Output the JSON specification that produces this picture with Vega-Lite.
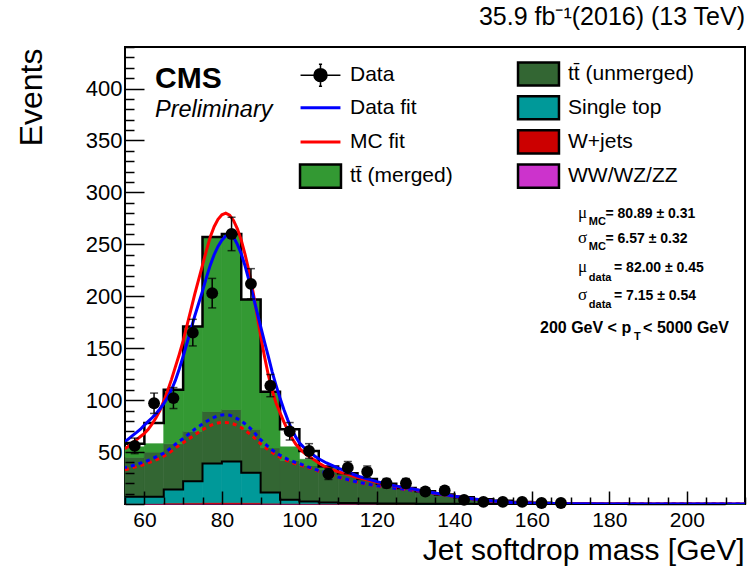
{
  "$schema": "https://vega.github.io/schema/vega-lite/v6.json",
  "width": 620,
  "height": 457,
  "autosize": {"type": "none"},
  "padding": {"left": 125, "top": 47, "right": 2, "bottom": 62},
  "background": "white",
  "title": {"text": "35.9 fb\u207b\u00b9(2016) (13 TeV)", "anchor": "end", "frame": "group", "fontSize": 25, "fontWeight": "normal", "font": "Liberation Sans", "color": "black", "offset": 6},
  "datasets": {
    "bins": [
      {"lo": 55, "hi": 60, "ww": 0.1, "wjets": 0.3, "stop": 6.6, "tt_unmerged": 38, "tt_merged": 10, "mc_total": 58},
      {"lo": 60, "hi": 65, "ww": 0.1, "wjets": 0.4, "stop": 6.5, "tt_unmerged": 43, "tt_merged": 8, "mc_total": 78},
      {"lo": 65, "hi": 70, "ww": 0.2, "wjets": 0.8, "stop": 13, "tt_unmerged": 44, "tt_merged": 52, "mc_total": 110},
      {"lo": 70, "hi": 75, "ww": 0.2, "wjets": 1.0, "stop": 20.8, "tt_unmerged": 48, "tt_merged": 101, "mc_total": 171},
      {"lo": 75, "hi": 80, "ww": 0.3, "wjets": 1.2, "stop": 37.5, "tt_unmerged": 50, "tt_merged": 168, "mc_total": 257},
      {"lo": 80, "hi": 85, "ww": 0.3, "wjets": 1.2, "stop": 39.5, "tt_unmerged": 50, "tt_merged": 169, "mc_total": 260},
      {"lo": 85, "hi": 90, "ww": 0.3, "wjets": 1.0, "stop": 28.7, "tt_unmerged": 42, "tt_merged": 125, "mc_total": 197},
      {"lo": 90, "hi": 95, "ww": 0.2, "wjets": 0.6, "stop": 10.2, "tt_unmerged": 43, "tt_merged": 54, "mc_total": 108},
      {"lo": 95, "hi": 100, "ww": 0.2, "wjets": 0.4, "stop": 3.4, "tt_unmerged": 38, "tt_merged": 13, "mc_total": 72},
      {"lo": 100, "hi": 105, "ww": 0.1, "wjets": 0.3, "stop": 2.1, "tt_unmerged": 34.5, "tt_merged": 6, "mc_total": 51},
      {"lo": 105, "hi": 110, "ww": 0.1, "wjets": 0.2, "stop": 1.2, "tt_unmerged": 31.5, "tt_merged": 2, "mc_total": 36},
      {"lo": 110, "hi": 115, "ww": 0.1, "wjets": 0.2, "stop": 0.7, "tt_unmerged": 27, "tt_merged": 1.5, "mc_total": 29.5},
      {"lo": 115, "hi": 120, "ww": 0.1, "wjets": 0.1, "stop": 0.6, "tt_unmerged": 22.2, "tt_merged": 1, "mc_total": 24},
      {"lo": 120, "hi": 125, "ww": 0, "wjets": 0.1, "stop": 0.5, "tt_unmerged": 18.4, "tt_merged": 0.6, "mc_total": 19.6},
      {"lo": 125, "hi": 130, "ww": 0, "wjets": 0.1, "stop": 0.4, "tt_unmerged": 14.5, "tt_merged": 0.5, "mc_total": 15.5},
      {"lo": 130, "hi": 135, "ww": 0, "wjets": 0, "stop": 0.3, "tt_unmerged": 11.7, "tt_merged": 0.3, "mc_total": 12.3},
      {"lo": 135, "hi": 140, "ww": 0, "wjets": 0, "stop": 0.2, "tt_unmerged": 8.8, "tt_merged": 0.2, "mc_total": 9.2},
      {"lo": 140, "hi": 145, "ww": 0, "wjets": 0, "stop": 0.2, "tt_unmerged": 6.3, "tt_merged": 0.1, "mc_total": 6.6},
      {"lo": 145, "hi": 150, "ww": 0, "wjets": 0, "stop": 0.1, "tt_unmerged": 4.4, "tt_merged": 0.1, "mc_total": 4.6},
      {"lo": 150, "hi": 155, "ww": 0, "wjets": 0, "stop": 0.1, "tt_unmerged": 2.9, "tt_merged": 0.1, "mc_total": 3.1},
      {"lo": 155, "hi": 160, "ww": 0, "wjets": 0, "stop": 0.05, "tt_unmerged": 1.9, "tt_merged": 0.05, "mc_total": 2.0},
      {"lo": 160, "hi": 165, "ww": 0, "wjets": 0, "stop": 0, "tt_unmerged": 1.3, "tt_merged": 0, "mc_total": 1.3},
      {"lo": 165, "hi": 170, "ww": 0, "wjets": 0, "stop": 0, "tt_unmerged": 0.8, "tt_merged": 0, "mc_total": 0.8},
      {"lo": 170, "hi": 175, "ww": 0, "wjets": 0, "stop": 0, "tt_unmerged": 0.5, "tt_merged": 0, "mc_total": 0.5},
      {"lo": 175, "hi": 180, "ww": 0, "wjets": 0, "stop": 0, "tt_unmerged": 0.3, "tt_merged": 0, "mc_total": 0.3},
      {"lo": 180, "hi": 185, "ww": 0, "wjets": 0, "stop": 0, "tt_unmerged": 0.2, "tt_merged": 0, "mc_total": 0.2},
      {"lo": 185, "hi": 190, "ww": 0, "wjets": 0, "stop": 0, "tt_unmerged": 0.12, "tt_merged": 0, "mc_total": 0.12},
      {"lo": 190, "hi": 195, "ww": 0, "wjets": 0, "stop": 0, "tt_unmerged": 0.08, "tt_merged": 0, "mc_total": 0.08},
      {"lo": 195, "hi": 200, "ww": 0, "wjets": 0, "stop": 0, "tt_unmerged": 0.05, "tt_merged": 0, "mc_total": 0.05},
      {"lo": 200, "hi": 205, "ww": 0, "wjets": 0, "stop": 0, "tt_unmerged": 0.03, "tt_merged": 0, "mc_total": 0.03},
      {"lo": 205, "hi": 210, "ww": 0, "wjets": 0, "stop": 0, "tt_unmerged": 0.02, "tt_merged": 0, "mc_total": 0.02},
      {"lo": 210, "hi": 215, "ww": 0, "wjets": 0, "stop": 0, "tt_unmerged": 0.01, "tt_merged": 0, "mc_total": 0.01}
    ],
    "points": [
      {"m": 57.5, "n": 56, "err": 7.5},
      {"m": 62.5, "n": 97, "err": 9.8},
      {"m": 67.5, "n": 102, "err": 10.1},
      {"m": 72.5, "n": 165, "err": 12.8},
      {"m": 77.5, "n": 203, "err": 14.2},
      {"m": 82.5, "n": 260, "err": 16.1},
      {"m": 87.5, "n": 212, "err": 14.6},
      {"m": 92.5, "n": 114, "err": 10.7},
      {"m": 97.5, "n": 70, "err": 8.4},
      {"m": 102.5, "n": 51, "err": 7.1},
      {"m": 107.5, "n": 29, "err": 5.4},
      {"m": 112.5, "n": 35, "err": 5.9},
      {"m": 117.5, "n": 31, "err": 5.6},
      {"m": 122.5, "n": 20, "err": 4.5},
      {"m": 127.5, "n": 20, "err": 4.5},
      {"m": 132.5, "n": 12, "err": 3.5},
      {"m": 137.5, "n": 13, "err": 3.6},
      {"m": 142.5, "n": 4, "err": 2},
      {"m": 147.5, "n": 2, "err": 1.4},
      {"m": 152.5, "n": 2, "err": 1.4},
      {"m": 157.5, "n": 2, "err": 1.4},
      {"m": 162.5, "n": 1, "err": 1},
      {"m": 167.5, "n": 1, "err": 1}
    ],
    "curves": [
      {"m": 55, "data_fit": 60, "mc_fit": 53, "data_bkg": 35, "mc_bkg": 33},
      {"m": 56, "data_fit": 63, "mc_fit": 56, "data_bkg": 36, "mc_bkg": 34},
      {"m": 57, "data_fit": 66, "mc_fit": 59, "data_bkg": 37, "mc_bkg": 35},
      {"m": 58, "data_fit": 69, "mc_fit": 62, "data_bkg": 38, "mc_bkg": 36},
      {"m": 59, "data_fit": 72, "mc_fit": 65, "data_bkg": 39.3, "mc_bkg": 37},
      {"m": 60, "data_fit": 76, "mc_fit": 68, "data_bkg": 40.5, "mc_bkg": 38},
      {"m": 61, "data_fit": 79.5, "mc_fit": 72, "data_bkg": 42, "mc_bkg": 39.5},
      {"m": 62, "data_fit": 83, "mc_fit": 77, "data_bkg": 43.5, "mc_bkg": 41},
      {"m": 63, "data_fit": 87, "mc_fit": 83, "data_bkg": 45.3, "mc_bkg": 42.5},
      {"m": 64, "data_fit": 91.5, "mc_fit": 90, "data_bkg": 47, "mc_bkg": 44},
      {"m": 65, "data_fit": 96.5, "mc_fit": 99, "data_bkg": 49, "mc_bkg": 46},
      {"m": 66, "data_fit": 102.5, "mc_fit": 109, "data_bkg": 51.5, "mc_bkg": 48.5},
      {"m": 67, "data_fit": 110, "mc_fit": 120, "data_bkg": 54.5, "mc_bkg": 51},
      {"m": 68, "data_fit": 119, "mc_fit": 132, "data_bkg": 57.5, "mc_bkg": 54},
      {"m": 69, "data_fit": 130, "mc_fit": 144, "data_bkg": 60.5, "mc_bkg": 56.5},
      {"m": 70, "data_fit": 142, "mc_fit": 157, "data_bkg": 63, "mc_bkg": 59},
      {"m": 71, "data_fit": 155, "mc_fit": 172, "data_bkg": 66, "mc_bkg": 61.5},
      {"m": 72, "data_fit": 168, "mc_fit": 187, "data_bkg": 69, "mc_bkg": 64},
      {"m": 73, "data_fit": 181, "mc_fit": 202, "data_bkg": 72, "mc_bkg": 66.5},
      {"m": 74, "data_fit": 193, "mc_fit": 216, "data_bkg": 74.5, "mc_bkg": 69},
      {"m": 75, "data_fit": 205, "mc_fit": 230, "data_bkg": 77, "mc_bkg": 71.5},
      {"m": 76, "data_fit": 218, "mc_fit": 244, "data_bkg": 79.5, "mc_bkg": 73.5},
      {"m": 77, "data_fit": 230, "mc_fit": 257, "data_bkg": 81.5, "mc_bkg": 75.5},
      {"m": 78, "data_fit": 240, "mc_fit": 267, "data_bkg": 83.5, "mc_bkg": 77},
      {"m": 79, "data_fit": 248, "mc_fit": 274, "data_bkg": 85, "mc_bkg": 78},
      {"m": 80, "data_fit": 254, "mc_fit": 278.5, "data_bkg": 85.7, "mc_bkg": 78.5},
      {"m": 81, "data_fit": 258, "mc_fit": 280, "data_bkg": 86, "mc_bkg": 78.5},
      {"m": 82, "data_fit": 259, "mc_fit": 278, "data_bkg": 85.5, "mc_bkg": 78},
      {"m": 83, "data_fit": 257, "mc_fit": 273, "data_bkg": 84, "mc_bkg": 77},
      {"m": 84, "data_fit": 250, "mc_fit": 265, "data_bkg": 82, "mc_bkg": 75.5},
      {"m": 85, "data_fit": 241, "mc_fit": 254, "data_bkg": 80, "mc_bkg": 73.5},
      {"m": 86, "data_fit": 229, "mc_fit": 240, "data_bkg": 77, "mc_bkg": 71},
      {"m": 87, "data_fit": 215, "mc_fit": 224, "data_bkg": 74, "mc_bkg": 68},
      {"m": 88, "data_fit": 201, "mc_fit": 205, "data_bkg": 70.5, "mc_bkg": 65},
      {"m": 89, "data_fit": 186, "mc_fit": 184, "data_bkg": 66, "mc_bkg": 61.5},
      {"m": 90, "data_fit": 171, "mc_fit": 162, "data_bkg": 62, "mc_bkg": 58},
      {"m": 91, "data_fit": 156, "mc_fit": 142, "data_bkg": 58.5, "mc_bkg": 55},
      {"m": 92, "data_fit": 142, "mc_fit": 124, "data_bkg": 55, "mc_bkg": 52},
      {"m": 93, "data_fit": 127, "mc_fit": 109, "data_bkg": 52, "mc_bkg": 49.5},
      {"m": 94, "data_fit": 114, "mc_fit": 97, "data_bkg": 49.5, "mc_bkg": 47},
      {"m": 95, "data_fit": 102, "mc_fit": 88, "data_bkg": 47, "mc_bkg": 45},
      {"m": 96, "data_fit": 91, "mc_fit": 79, "data_bkg": 45, "mc_bkg": 43},
      {"m": 97, "data_fit": 81, "mc_fit": 71, "data_bkg": 43, "mc_bkg": 41.5},
      {"m": 98, "data_fit": 72, "mc_fit": 64, "data_bkg": 41.5, "mc_bkg": 40},
      {"m": 99, "data_fit": 65, "mc_fit": 58, "data_bkg": 40, "mc_bkg": 38.8},
      {"m": 100, "data_fit": 59, "mc_fit": 53.5, "data_bkg": 39, "mc_bkg": 37.8},
      {"m": 101, "data_fit": 55, "mc_fit": 50, "data_bkg": 37.5, "mc_bkg": 36.6},
      {"m": 102, "data_fit": 52, "mc_fit": 47, "data_bkg": 36, "mc_bkg": 35.4},
      {"m": 103, "data_fit": 49, "mc_fit": 44.5, "data_bkg": 34.8, "mc_bkg": 34.2},
      {"m": 104, "data_fit": 46, "mc_fit": 42, "data_bkg": 33.5, "mc_bkg": 33},
      {"m": 105, "data_fit": 43.5, "mc_fit": 39.5, "data_bkg": 32, "mc_bkg": 31.6},
      {"m": 107, "data_fit": 39.5, "mc_fit": 35, "data_bkg": 30, "mc_bkg": 29.5},
      {"m": 110, "data_fit": 34.5, "mc_fit": 31, "data_bkg": 26, "mc_bkg": 25.8},
      {"m": 112, "data_fit": 31.5, "mc_fit": 29, "data_bkg": 24, "mc_bkg": 23.8},
      {"m": 115, "data_fit": 27, "mc_fit": 25.5, "data_bkg": 21, "mc_bkg": 20.8},
      {"m": 120, "data_fit": 21.5, "mc_fit": 21, "data_bkg": 17.5, "mc_bkg": 17.3},
      {"m": 125, "data_fit": 17.2, "mc_fit": 17, "data_bkg": 15, "mc_bkg": 14.9},
      {"m": 130, "data_fit": 14, "mc_fit": 13.8, "data_bkg": 13, "mc_bkg": 12.9},
      {"m": 135, "data_fit": 10.5, "mc_fit": 10.4, "data_bkg": 10.2, "mc_bkg": 10.1},
      {"m": 140, "data_fit": 7.5, "mc_fit": 7.4, "data_bkg": 7.4, "mc_bkg": 7.3},
      {"m": 145, "data_fit": 4.8, "mc_fit": 4.7, "data_bkg": 4.8, "mc_bkg": 4.7},
      {"m": 150, "data_fit": 2.8, "mc_fit": 2.7, "data_bkg": 2.8, "mc_bkg": 2.8},
      {"m": 155, "data_fit": 1.5, "mc_fit": 1.5, "data_bkg": 1.5, "mc_bkg": 1.5},
      {"m": 160, "data_fit": 0.8, "mc_fit": 0.8, "data_bkg": 0.8, "mc_bkg": 0.8},
      {"m": 165, "data_fit": 0.4, "mc_fit": 0.4, "data_bkg": 0.4, "mc_bkg": 0.4},
      {"m": 170, "data_fit": 0.2, "mc_fit": 0.2, "data_bkg": 0.2, "mc_bkg": 0.2},
      {"m": 180, "data_fit": 0.05, "mc_fit": 0.05, "data_bkg": 0.05, "mc_bkg": 0.05},
      {"m": 195, "data_fit": 0.01, "mc_fit": 0.01, "data_bkg": 0.01, "mc_bkg": 0.01},
      {"m": 215, "data_fit": 0, "mc_fit": 0, "data_bkg": 0, "mc_bkg": 0}
    ]
  },
  "layer": [
    {
      "data": {"name": "bins"},
      "transform": [
        {"fold": ["ww", "wjets", "stop", "tt_unmerged", "tt_merged"], "as": ["comp", "n"]},
        {"calculate": "{'ww': 'WW/WZ/ZZ', 'wjets': 'W+jets', 'stop': 'Single top', 'tt_unmerged': 'tt\u0304 (unmerged)', 'tt_merged': 'tt\u0304 (merged)'}[datum.comp]", "as": "process"},
        {"calculate": "indexof(['ww', 'wjets', 'stop', 'tt_unmerged', 'tt_merged'], datum.comp)", "as": "k"},
        {"stack": "n", "groupby": ["lo"], "sort": [{"field": "k", "order": "ascending"}], "as": ["n0", "n1"]},
        {"filter": "datum.n > 0"}
      ],
      "mark": {"type": "rect", "stroke": {"expr": "scale('color', datum.process)"}, "strokeWidth": 0.7},
      "encoding": {
        "x": {
          "field": "lo", "type": "quantitative",
          "scale": {"domain": [55, 215], "nice": false, "zero": false},
          "axis": {
            "title": "Jet softdrop mass [GeV]",
            "values": [55, 60, 65, 70, 75, 80, 85, 90, 95, 100, 105, 110, 115, 120, 125, 130, 135, 140, 145, 150, 155, 160, 165, 170, 175, 180, 185, 190, 195, 200, 205, 210, 215],
            "tickCount": 100,
            "labelExpr": "datum.value % 20 === 0 ? datum.label : ''",
            "labelOverlap": false,
            "tickSize": -13,
            "labelPadding": 18,
            "labelFontSize": 21,
            "zindex": 1,
            "encoding": {
              "ticks": {"y2": {"condition": {"test": "datum.value % 20 === 0", "value": -13}, "value": -7}}
            },
            "titleAnchor": "end", "titleAlign": "right", "titleBaseline": "alphabetic",
            "titleFontSize": 30,
            "titleX": 619, "titleY": 55
          }
        },
        "x2": {"field": "hi"},
        "y": {
          "field": "n0", "type": "quantitative",
          "scale": {"domain": [0, 440], "nice": false, "zero": false},
          "axis": {
            "title": "Events",
            "values": [0, 10, 20, 30, 40, 50, 60, 70, 80, 90, 100, 110, 120, 130, 140, 150, 160, 170, 180, 190, 200, 210, 220, 230, 240, 250, 260, 270, 280, 290, 300, 310, 320, 330, 340, 350, 360, 370, 380, 390, 400, 410, 420, 430, 440],
            "tickCount": 100,
            "labelExpr": "datum.value % 50 === 0 && datum.value > 0 ? datum.label : ''",
            "labelOverlap": false,
            "tickSize": -19,
            "labelPadding": 22,
            "zindex": 1,
            "encoding": {
              "ticks": {"x2": {"condition": {"test": "datum.value % 50 === 0", "value": 19}, "value": 9}}
            },
            "titleAnchor": "end", "titleAlign": "right", "titleBaseline": "alphabetic",
            "titleAngle": -90, "titleX": -84, "titleY": 1
          }
        },
        "y2": {"field": "n1"},
        "color": {
          "field": "process", "type": "nominal",
          "scale": {
            "domain": ["Data", "Data fit", "MC fit", "tt\u0304 (merged)", "tt\u0304 (unmerged)", "Single top", "W+jets", "WW/WZ/ZZ"],
            "range": ["#000000", "#0000ff", "#ff0000", "#339933", "#336633", "#009999", "#cc0000", "#cc33cc"]
          },
          "legend": {
            "orient": "none", "legendX": 185, "legendY": 16, "columns": 2, "columnPadding": 60, "rowPadding": -0.8,
            "title": null, "symbolSize": 441, "labelFontSize": 21, "labelOffset": 19, "labelLimit": 300,
            "labelFont": "Liberation Sans", "labelColor": "black",
            "encoding": {
              "symbols": {
                "shape": {"value": {"expr": "datum.value === 'Data' ? 'M-1.9,0H1.9M0,-1.05V1.05M-0.15,-1.05H0.15M-0.15,1.05H0.15M0.62,0A0.62,0.62 0 1 1 -0.62,0A0.62,0.62 0 1 1 0.62,0Z' : (datum.value === 'Data fit' || datum.value === 'MC fit') ? 'M-1.9,0H1.9' : 'M-1.95,-1.1H1.95V1.1H-1.95Z'"}},
                "fill": {"value": {"expr": "(datum.value === 'Data fit' || datum.value === 'MC fit') ? 'transparent' : scale('color', datum.value)"}},
                "stroke": {"value": {"expr": "datum.value === 'Data fit' ? '#0000ff' : datum.value === 'MC fit' ? '#ff0000' : 'black'"}},
                "strokeWidth": {"value": {"expr": "(datum.value === 'Data fit' || datum.value === 'MC fit') ? 3 : datum.value === 'Data' ? 1.5 : 2.5"}},
                "opacity": {"value": 1},
                "fillOpacity": {"value": 1}
              }
            }
          }
        }
      }
    },
    {
      "data": {"name": "bins"},
      "transform": [
        {"fold": ["ww", "wjets", "stop", "tt_unmerged", "tt_merged"], "as": ["comp", "n"]},
        {"calculate": "indexof(['ww', 'wjets', 'stop', 'tt_unmerged', 'tt_merged'], datum.comp)", "as": "k"},
        {"stack": "n", "groupby": ["lo"], "sort": [{"field": "k", "order": "ascending"}], "as": ["n0", "n1"]},
        {"filter": "datum.comp === 'stop'"}
      ],
      "mark": {"type": "line", "interpolate": "step-after", "color": "black", "strokeWidth": 2},
      "encoding": {
        "x": {"field": "lo", "type": "quantitative"},
        "y": {"field": "n1", "type": "quantitative"}
      }
    },
    {
      "data": {"name": "bins"},
      "mark": {"type": "line", "interpolate": "step-after", "color": "black", "strokeWidth": 2.5},
      "encoding": {
        "x": {"field": "lo", "type": "quantitative"},
        "y": {"field": "mc_total", "type": "quantitative"}
      }
    },
    {
      "data": {"name": "curves"},
      "mark": {"type": "line", "color": "#ff0000", "strokeWidth": 3, "strokeDash": [4, 4], "clip": true},
      "encoding": {
        "x": {"field": "m", "type": "quantitative"},
        "y": {"field": "mc_bkg", "type": "quantitative"}
      }
    },
    {
      "data": {"name": "curves"},
      "mark": {"type": "line", "color": "#0000ff", "strokeWidth": 3, "strokeDash": [4, 4], "strokeDashOffset": 2, "clip": true},
      "encoding": {
        "x": {"field": "m", "type": "quantitative"},
        "y": {"field": "data_bkg", "type": "quantitative"}
      }
    },
    {
      "data": {"name": "curves"},
      "mark": {"type": "line", "color": "#ff0000", "strokeWidth": 3, "clip": true},
      "encoding": {
        "x": {"field": "m", "type": "quantitative"},
        "y": {"field": "mc_fit", "type": "quantitative"}
      }
    },
    {
      "data": {"name": "curves"},
      "mark": {"type": "line", "color": "#0000ff", "strokeWidth": 3, "clip": true},
      "encoding": {
        "x": {"field": "m", "type": "quantitative"},
        "y": {"field": "data_fit", "type": "quantitative"}
      }
    },
    {
      "data": {"name": "points"},
      "mark": {"type": "errorbar", "color": "black", "thickness": 1.5, "ticks": {"size": 8, "thickness": 1.5, "color": "black"}},
      "encoding": {
        "x": {"field": "m", "type": "quantitative", "title": "Jet softdrop mass [GeV]"},
        "y": {"field": "n", "type": "quantitative", "title": "Events"},
        "yError": {"field": "err"}
      }
    },
    {
      "data": {"name": "points"},
      "mark": {"type": "circle", "color": "black", "size": 140, "opacity": 1},
      "encoding": {
        "x": {"field": "m", "type": "quantitative"},
        "y": {"field": "n", "type": "quantitative"}
      }
    },
    {
      "data": {"values": [{}]},
      "mark": {"type": "text", "text": "CMS", "font": "Liberation Sans", "fontSize": 30, "fontWeight": "bold", "align": "left", "baseline": "alphabetic", "color": "black"},
      "encoding": {"x": {"datum": 62.74}, "y": {"datum": 400.5}}
    },
    {
      "data": {"values": [{}]},
      "mark": {"type": "text", "text": "Preliminary", "font": "Liberation Sans", "fontSize": 23.5, "fontStyle": "italic", "align": "left", "baseline": "alphabetic", "color": "black"},
      "encoding": {"x": {"datum": 62.74}, "y": {"datum": 372.6}}
    },
    {
      "data": {"values": [{}]},
      "mark": {"type": "text", "text": "\u03bc", "font": "Liberation Serif", "fontSize": 17, "align": "left", "baseline": "alphabetic", "color": "black"},
      "encoding": {"x": {"datum": 171.9}, "y": {"datum": 275.4}}
    },
    {
      "data": {"values": [{}]},
      "mark": {"type": "text", "text": "MC", "font": "Liberation Sans", "fontSize": 11, "fontWeight": "bold", "align": "left", "baseline": "alphabetic", "color": "black"},
      "encoding": {"x": {"datum": 174.7}, "y": {"datum": 268.6}}
    },
    {
      "data": {"values": [{}]},
      "mark": {"type": "text", "text": "= 80.89 \u00b1 0.31", "font": "Liberation Sans", "fontSize": 14, "fontWeight": "bold", "align": "left", "baseline": "alphabetic", "color": "black"},
      "encoding": {"x": {"datum": 179}, "y": {"datum": 275.4}}
    },
    {
      "data": {"values": [{}]},
      "mark": {"type": "text", "text": "\u03c3", "font": "Liberation Serif", "fontSize": 17, "align": "left", "baseline": "alphabetic", "color": "black"},
      "encoding": {"x": {"datum": 171.9}, "y": {"datum": 251.3}}
    },
    {
      "data": {"values": [{}]},
      "mark": {"type": "text", "text": "MC", "font": "Liberation Sans", "fontSize": 11, "fontWeight": "bold", "align": "left", "baseline": "alphabetic", "color": "black"},
      "encoding": {"x": {"datum": 174.7}, "y": {"datum": 244.6}}
    },
    {
      "data": {"values": [{}]},
      "mark": {"type": "text", "text": "= 6.57 \u00b1 0.32", "font": "Liberation Sans", "fontSize": 14, "fontWeight": "bold", "align": "left", "baseline": "alphabetic", "color": "black"},
      "encoding": {"x": {"datum": 179}, "y": {"datum": 251.3}}
    },
    {
      "data": {"values": [{}]},
      "mark": {"type": "text", "text": "\u03bc", "font": "Liberation Serif", "fontSize": 17, "align": "left", "baseline": "alphabetic", "color": "black"},
      "encoding": {"x": {"datum": 171.9}, "y": {"datum": 223.4}}
    },
    {
      "data": {"values": [{}]},
      "mark": {"type": "text", "text": "data", "font": "Liberation Sans", "fontSize": 11, "fontWeight": "bold", "align": "left", "baseline": "alphabetic", "color": "black"},
      "encoding": {"x": {"datum": 174.7}, "y": {"datum": 214.7}}
    },
    {
      "data": {"values": [{}]},
      "mark": {"type": "text", "text": "= 82.00 \u00b1 0.45", "font": "Liberation Sans", "fontSize": 14, "fontWeight": "bold", "align": "left", "baseline": "alphabetic", "color": "black"},
      "encoding": {"x": {"datum": 181.2}, "y": {"datum": 223.4}}
    },
    {
      "data": {"values": [{}]},
      "mark": {"type": "text", "text": "\u03c3", "font": "Liberation Serif", "fontSize": 17, "align": "left", "baseline": "alphabetic", "color": "black"},
      "encoding": {"x": {"datum": 171.9}, "y": {"datum": 196.4}}
    },
    {
      "data": {"values": [{}]},
      "mark": {"type": "text", "text": "data", "font": "Liberation Sans", "fontSize": 11, "fontWeight": "bold", "align": "left", "baseline": "alphabetic", "color": "black"},
      "encoding": {"x": {"datum": 174.7}, "y": {"datum": 188.7}}
    },
    {
      "data": {"values": [{}]},
      "mark": {"type": "text", "text": "= 7.15 \u00b1 0.54", "font": "Liberation Sans", "fontSize": 14, "fontWeight": "bold", "align": "left", "baseline": "alphabetic", "color": "black"},
      "encoding": {"x": {"datum": 181.2}, "y": {"datum": 196.4}}
    },
    {
      "data": {"values": [{}]},
      "mark": {"type": "text", "text": "200 GeV < p", "font": "Liberation Sans", "fontSize": 16, "fontWeight": "bold", "align": "left", "baseline": "alphabetic", "color": "black"},
      "encoding": {"x": {"datum": 162.1}, "y": {"datum": 164.6}}
    },
    {
      "data": {"values": [{}]},
      "mark": {"type": "text", "text": "T", "font": "Liberation Sans", "fontSize": 11, "fontWeight": "bold", "align": "left", "baseline": "alphabetic", "color": "black"},
      "encoding": {"x": {"datum": 186.35}, "y": {"datum": 157.9}}
    },
    {
      "data": {"values": [{}]},
      "mark": {"type": "text", "text": "< 5000 GeV", "font": "Liberation Sans", "fontSize": 16, "fontWeight": "bold", "align": "left", "baseline": "alphabetic", "color": "black"},
      "encoding": {"x": {"datum": 188.7}, "y": {"datum": 164.6}}
    }
  ],
  "config": {
    "font": "Liberation Sans",
    "view": {"stroke": "black", "strokeWidth": 2},
    "axis": {
      "domain": false, "grid": false, "ticks": true,
      "tickColor": "black", "tickWidth": 1.5, "tickOpacity": 1,
      "labelColor": "black", "titleColor": "black",
      "labelFont": "Liberation Sans", "titleFont": "Liberation Sans",
      "labelFontSize": 22, "titleFontSize": 32, "titleFontWeight": "normal",
      "labelFlush": false, "labelOverlap": false, "labelBound": false
    }
  }
}
